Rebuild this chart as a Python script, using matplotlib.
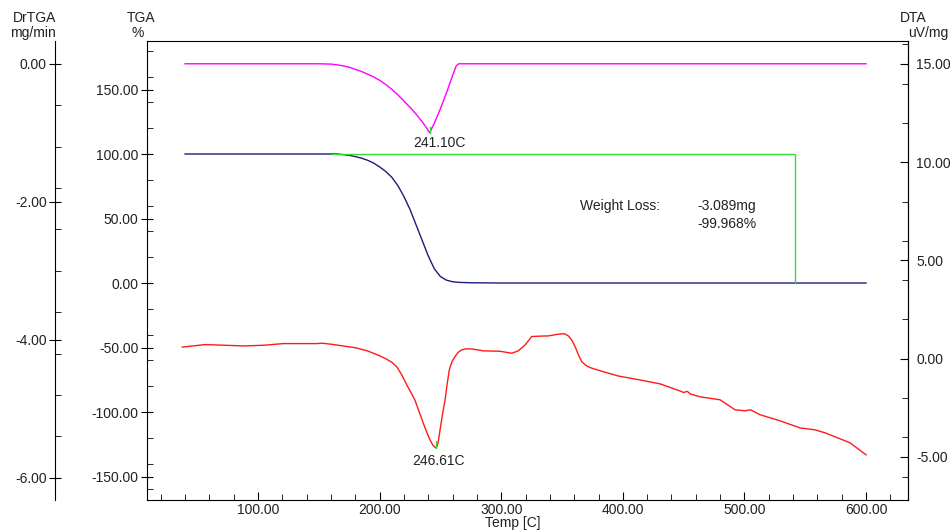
import numpy as np
import matplotlib
matplotlib.use("Agg")
import matplotlib.pyplot as plt
from matplotlib.ticker import MultipleLocator, FormatStrFormatter

plt.rcParams['font.family'] = ['Liberation Sans', 'DejaVu Sans']
plt.rcParams['font.size'] = 10

# ---- datos ----
# DrTGA (mg/min)
temp_dr = [40, 150, 160, 165, 170, 175, 180, 185, 190, 195, 200, 205, 210, 215, 220,
           225, 230, 235, 239, 241.1, 245, 250, 255, 260, 263, 265, 270, 600]
drtga = [0, 0, -0.005, -0.015, -0.03, -0.05, -0.08, -0.11, -0.15, -0.19, -0.24, -0.30,
         -0.37, -0.45, -0.54, -0.63, -0.73, -0.84, -0.94, -1.0, -0.86, -0.65, -0.42,
         -0.17, -0.03, 0, 0, 0]

# TGA (%)
temp_tga = [40, 165, 170, 175, 180, 185, 190, 195, 200, 205, 210, 215, 220, 225, 230,
            235, 240, 245, 250, 255, 260, 265, 275, 300, 600]
tga = [100, 100, 99.5, 99, 98, 96.8, 95.2, 93, 90, 86.5, 82, 75.5, 67, 57, 45, 33, 21,
       11, 5, 2.2, 1.0, 0.5, 0.2, 0, 0]

# DTA (uV/mg)
temp_dta = [37.7, 56.4, 89.3, 105.6, 120.8, 148.2, 152.4, 160, 170, 180, 190, 200, 205,
            210, 214, 218, 222.3, 226, 229, 232.5, 235.9, 238.5, 241.4, 244, 246.6, 248,
            249.7, 251.5, 253.8, 255.5, 257.3, 259.5, 262, 264.5, 267.5, 271, 275.7,
            285.3, 299, 308.6, 314, 319.6, 325.1, 332, 338.7, 347, 352, 355.2, 358,
            360.7, 363.5, 366.2, 370, 374.4, 383.9, 396.3, 414.1, 430.6, 447, 450, 453,
            455.3, 463.5, 480, 492.3, 500.5, 505, 512.8, 529.3, 545.7, 558, 566.2,
            574.4, 586.8, 600]
dta = [0.59, 0.72, 0.65, 0.69, 0.77, 0.77, 0.79, 0.74, 0.65, 0.56, 0.40, 0.15, 0.0,
       -0.18, -0.4, -0.8, -1.33, -1.75, -2.1, -2.7, -3.28, -3.7, -4.13, -4.42, -4.55,
       -4.3, -3.62, -2.9, -2.1, -1.3, -0.57, -0.15, 0.11, 0.32, 0.45, 0.5, 0.5, 0.4,
       0.38, 0.28, 0.4, 0.7, 1.13, 1.15, 1.16, 1.25, 1.27, 1.16, 0.95, 0.62, 0.2,
       -0.15, -0.36, -0.48, -0.66, -0.88, -1.08, -1.28, -1.64, -1.72, -1.66, -1.79,
       -1.94, -2.09, -2.6, -2.65, -2.6, -2.85, -3.16, -3.52, -3.62, -3.77, -3.97,
       -4.28, -4.89]

# Perdida de peso (rango de temperatura)
wl_inicio, wl_fin = 161, 541.5
pico_dr = (241.1, -1.0)
pico_dta = (246.61, -4.55)

color_txt = '#222222'

fig = plt.figure(figsize=(9.53, 5.30), dpi=100)
ax = fig.add_axes([147/953, 1 - 500/530, 761/953, 459/530])
ax_dr = ax.twinx()
ax_dta = ax.twinx()

# Eje TGA (izquierda interior)
ax.plot(temp_tga, tga, color='#1c1c78', lw=1.0)
ax.plot([wl_inicio, wl_fin, wl_fin], [100, 100, 0], color='#33dd33', lw=1.0)
ax.set_xlim(8.7, 634.5)
ax.set_ylim(-168.2, 187.6)
ax.xaxis.set_major_locator(MultipleLocator(100))
ax.xaxis.set_minor_locator(MultipleLocator(20))
ax.yaxis.set_major_locator(MultipleLocator(50))
ax.yaxis.set_minor_locator(MultipleLocator(20))
ax.xaxis.set_major_formatter(FormatStrFormatter('%.2f'))
ax.yaxis.set_major_formatter(FormatStrFormatter('%.2f'))
ax.set_xticks([t for t in range(100, 601, 100)])
ax.tick_params(axis='x', which='major', direction='in', length=6, pad=2, labelcolor=color_txt)
ax.tick_params(axis='x', which='minor', direction='in', length=4)
ax.tick_params(axis='y', which='major', direction='inout', length=8, pad=2, labelcolor=color_txt)
ax.tick_params(axis='y', which='minor', direction='in', length=4)

# Eje DrTGA (izquierda exterior)
ax_dr.plot(temp_dr, drtga, color='#ff00ff', lw=1.0)
ax_dr.plot([pico_dr[0], pico_dr[0]], [pico_dr[1], pico_dr[1] + 0.08], color='#33dd33', lw=1.0)
ax_dr.set_ylim(-6.32, 0.33)
ax_dr.yaxis.set_ticks_position('left')
ax_dr.yaxis.set_label_position('left')
ax_dr.spines['left'].set_position(('axes', (55 - 147) / 761))
for s in ['right', 'top', 'bottom']:
    ax_dr.spines[s].set_visible(False)
ax_dr.yaxis.set_major_locator(MultipleLocator(2))
ax_dr.yaxis.set_minor_locator(MultipleLocator(0.6))
ax_dr.yaxis.set_major_formatter(FormatStrFormatter('%.2f'))
ax_dr.tick_params(axis='y', which='major', direction='inout', length=8, pad=2, labelcolor=color_txt)
ax_dr.tick_params(axis='y', which='minor', direction='in', length=4)

# Eje DTA (derecha)
ax_dta.plot(temp_dta, dta, color='#ff1a1a', lw=1.0)
ax_dta.plot([pico_dta[0], pico_dta[0]], [pico_dta[1], pico_dta[1] + 0.35], color='#33dd33', lw=1.0)
ax_dta.set_ylim(-7.19, 16.17)
ax_dta.yaxis.set_major_locator(MultipleLocator(5))
ax_dta.yaxis.set_minor_locator(MultipleLocator(2))
ax_dta.yaxis.set_major_formatter(FormatStrFormatter('%.2f'))
ax_dta.tick_params(axis='y', which='major', direction='in', length=6, pad=6, labelcolor=color_txt)
ax_dta.tick_params(axis='y', which='minor', direction='in', length=4)
for s in ['left', 'top', 'bottom']:
    ax_dta.spines[s].set_visible(False)

# Etiquetas de picos
ax_dr.text(pico_dr[0] + 8, pico_dr[1] - 0.04, '241.10C', ha='center', va='top', color=color_txt)
ax_dta.text(pico_dta[0] + 2, pico_dta[1] - 0.3, '246.61C', ha='center', va='top', color=color_txt)

# Texto de perdida de peso
ax.text((580 - 147) / 761, (500 - 206) / 459, 'Weight Loss:', transform=ax.transAxes,
        ha='left', va='center', color=color_txt)
ax.text((697 - 147) / 761, (500 - 206) / 459, '-3.089mg', transform=ax.transAxes,
        ha='left', va='center', color=color_txt)
ax.text((697 - 147) / 761, (500 - 224) / 459, '-99.968%', transform=ax.transAxes,
        ha='left', va='center', color=color_txt)

# Titulos de ejes
fig.text(35 / 953, 1 - 18 / 530, 'DrTGA', ha='center', va='center', color=color_txt)
fig.text(33 / 953, 1 - 33 / 530, 'mg/min', ha='center', va='center', color=color_txt)
fig.text(141 / 953, 1 - 18 / 530, 'TGA', ha='center', va='center', color=color_txt)
fig.text(138 / 953, 1 - 33 / 530, '%', ha='center', va='center', color=color_txt)
fig.text(913 / 953, 1 - 18 / 530, 'DTA', ha='center', va='center', color=color_txt)
fig.text(908 / 953, 1 - 33 / 530, 'uV/mg', ha='left', va='center', color=color_txt)
fig.text(513 / 953, 1 - 523 / 530, 'Temp [C]', ha='center', va='center', color=color_txt)

fig.savefig('out.png', dpi=100)
